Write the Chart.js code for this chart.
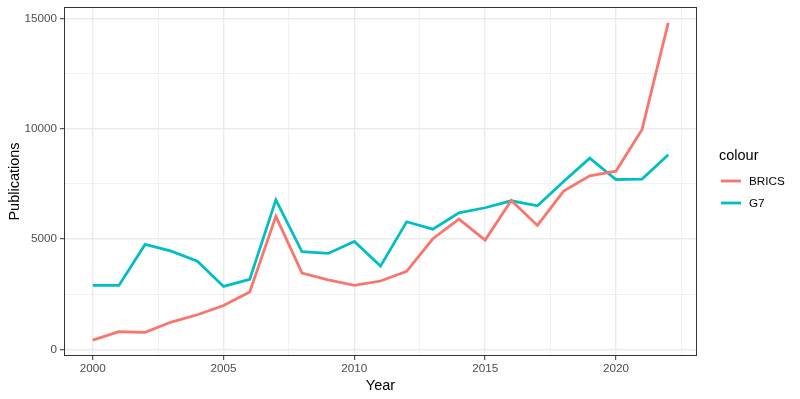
<!DOCTYPE html>
<html>
<head>
<meta charset="utf-8">
<script src="https://cdn.jsdelivr.net/npm/chart.js@4"></script>
<style>
  html, body { margin: 0; padding: 0; background: #fff; }
  #wrap { width: 800px; height: 399px; }
</style>
</head>
<body>
<div id="wrap"><canvas id="pubChart" width="800" height="399"></canvas></div>
<script>
// data
const years = [2000, 2001, 2002, 2003, 2004, 2005, 2006, 2007, 2008, 2009, 2010,
               2011, 2012, 2013, 2014, 2015, 2016, 2017, 2018, 2019, 2020, 2021, 2022];
const brics = [420, 800, 770, 1240, 1570, 1990, 2600, 6030, 3460, 3155, 2900,
               3100, 3535, 5015, 5905, 4955, 6750, 5620, 7175, 7870, 8080, 9970, 14800];
const g7 = [2900, 2900, 4760, 4455, 4000, 2855, 3170, 6780, 4425, 4350, 4890,
            3775, 5785, 5450, 6190, 6420, 6735, 6510, 7610, 8670, 7700, 7720, 8820];
const xTicks = [2000, 2002.5, 2005, 2007.5, 2010, 2012.5, 2015, 2017.5, 2020, 2022.5];
const yTicks = [0, 2500, 5000, 7500, 10000, 12500, 15000];
const seriesNames = ['BRICS', 'G7'];
const seriesColors = ['#F8766D', '#00BFC4'];

const FONT = 'Helvetica, "Liberation Sans", Arial, sans-serif';

// panel border + legend, ggplot style
const ggExtras = {
    id: 'ggExtras',
    afterDraw(chart) {
        const { ctx, chartArea: a } = chart;
        ctx.save();
        ctx.strokeStyle = '#333333';
        ctx.lineWidth = 1;
        ctx.strokeRect(a.left + 0.5, a.top + 0.5, a.right - a.left - 1, a.bottom - a.top - 1);

        ctx.fillStyle = '#000';
        ctx.font = '14.5px ' + FONT;
        ctx.textBaseline = 'middle';
        ctx.textAlign = 'left';
        ctx.fillText('colour', 719, 156);

        ctx.font = '11.7px ' + FONT;
        ctx.lineWidth = 2.8;
        seriesNames.forEach((name, i) => {
            const y = 181 + i * 22;
            ctx.strokeStyle = seriesColors[i];
            ctx.beginPath();
            ctx.moveTo(721, y);
            ctx.lineTo(741, y);
            ctx.stroke();
            ctx.fillStyle = '#000';
            ctx.fillText(name, 749, y + 1);
        });
        ctx.restore();
    }
};

const ctx = document.getElementById('pubChart').getContext('2d');
new Chart(ctx, {
    type: 'line',
    data: {
        datasets: [
            { label: seriesNames[0], data: years.map((y, i) => ({ x: y, y: brics[i] })),
              borderColor: seriesColors[0], borderWidth: 2.8, pointRadius: 0, tension: 0, fill: false },
            { label: seriesNames[1], data: years.map((y, i) => ({ x: y, y: g7[i] })),
              borderColor: seriesColors[1], borderWidth: 2.8, pointRadius: 0, tension: 0, fill: false }
        ]
    },
    options: {
        responsive: false,
        animation: false,
        layout: { padding: { top: 7, right: 103, left: 0, bottom: 0 } },
        plugins: { legend: { display: false }, tooltip: { enabled: false } },
        scales: {
            x: {
                type: 'linear',
                min: 1998.9,
                max: 2023.1,
                afterBuildTicks: s => { s.ticks = xTicks.map(v => ({ value: v })); },
                afterFit: s => { s.height = 43; s.paddingLeft = 0; s.paddingRight = 0; },
                ticks: {
                    color: '#4D4D4D',
                    font: { family: FONT, size: 11.7 },
                    padding: 2,
                    maxRotation: 0,
                    autoSkip: false,
                    callback: v => (v % 5 === 0 ? String(v) : '')
                },
                grid: {
                    color: c => '#EBEBEB',
                    lineWidth: c => (c.tick && c.tick.value % 5 === 0 ? 1.4 : 0.7),
                    tickColor: c => (c.tick && c.tick.value % 5 === 0 ? '#333333' : 'rgba(0,0,0,0)'),
                    tickWidth: 1,
                    tickLength: 4
                },
                border: { display: false },
                title: {
                    display: true, text: 'Year', color: '#000',
                    font: { family: FONT, size: 14.5 }, padding: { top: 0, bottom: 4 }
                }
            },
            y: {
                min: -299,
                max: 15519,
                afterBuildTicks: s => { s.ticks = yTicks.map(v => ({ value: v })); },
                afterFit: s => { s.width = 64; s.paddingTop = 0; s.paddingBottom = 0; },
                ticks: {
                    color: '#4D4D4D',
                    font: { family: FONT, size: 11.7 },
                    padding: 3,
                    callback: v => (v % 5000 === 0 ? String(v) : '')
                },
                grid: {
                    color: c => '#EBEBEB',
                    lineWidth: c => (c.tick && c.tick.value % 5000 === 0 ? 1.4 : 0.7),
                    tickColor: c => (c.tick && c.tick.value % 5000 === 0 ? '#333333' : 'rgba(0,0,0,0)'),
                    tickWidth: 1,
                    tickLength: 4
                },
                border: { display: false },
                title: {
                    display: true, text: 'Publications', color: '#000',
                    font: { family: FONT, size: 14.5 }, padding: { top: 6, bottom: 0 }
                }
            }
        }
    },
    plugins: [ggExtras]
});
</script>
</body>
</html>
